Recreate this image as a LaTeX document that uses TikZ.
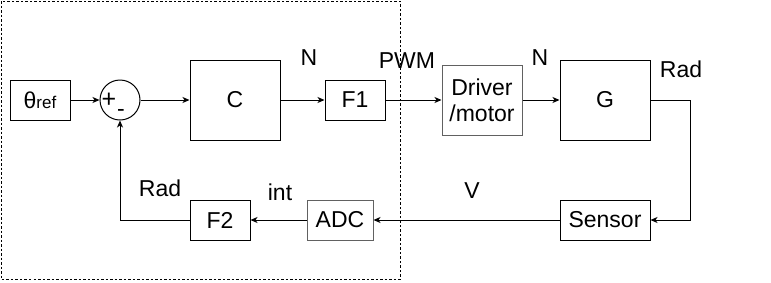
\documentclass[tikz,border=0pt]{standalone}
\usepackage{fontspec}
\setmainfont{Liberation Sans}
\usetikzlibrary{arrows.meta,positioning,calc}

\begin{document}
\begin{tikzpicture}[x=1pt,y=-1pt,line width=1pt,
  font=\fontsize{23}{26}\selectfont,
  blk/.style={draw,inner sep=0pt,align=center},
  grayblk/.style={blk,draw=black!62},
  arr/.style={-{Stealth[length=7pt,width=6pt,inset=2pt]}},
  lbl/.style={anchor=base,inner sep=0pt}]
\useasboundingbox (0,0) rectangle (771,282);

% digital part (dashed frame)
\draw[line width=0.8pt,dash pattern=on 2.5pt off 2pt] (1,1) rectangle (400,279);

% forward path
\node[blk,minimum width=60pt,minimum height=40pt] (ref) at (40,100)
  {θ{\fontsize{17}{17}\selectfont ref}};
\node[draw,circle,minimum size=40pt,inner sep=0pt] (sum) at (120,100) {};
\node[inner sep=0pt,font=\fontsize{25}{25}\selectfont] (plus) at (109,100) {+};
\node[inner sep=0pt,font=\fontsize{23}{23}\selectfont] (minus) at (121,113) {-};
\node[blk,minimum width=90pt,minimum height=80pt] (C) at (235,100) {C};
\node[blk,minimum width=60pt,minimum height=40pt] (F1) at (355,100) {F1};
\node[grayblk,minimum width=80pt,minimum height=70pt] (drv) at (482,100) {Driver\\/motor};
\node[blk,minimum width=90pt,minimum height=80pt] (G) at (605,100) {G};

% feedback path
\node[blk,minimum width=90pt,minimum height=40pt] (sens) at (605,220) {Sensor};
\node[grayblk,minimum width=66pt,minimum height=40pt] (adc) at (340,220) {ADC};
\node[blk,minimum width=60pt,minimum height=40pt] (F2) at (220,220) {F2};

\draw[arr] (ref) -- (sum);
\draw[arr] (sum) -- (C);
\draw[arr] (C) -- (F1);
\draw[arr] (F1) -- (drv);
\draw[arr] (drv) -- (G);
\draw[arr] (G.east) -- ++(40,0) |- (sens.east);
\draw[arr] (sens) -- (adc);
\draw[arr] (adc) -- (F2);
\draw[arr] (F2.west) -| (sum.south);

% signal units
\node[lbl] (uC) at (309,65) {N};
\node[lbl] (uF1) at (407,68) {PWM};
\node[lbl] (uDrv) at (540,65) {N};
\node[lbl] (uG) at (681,77) {Rad};
\node[lbl] (uSens) at (472,198) {V};
\node[lbl] (uAdc) at (280,200) {int};
\node[lbl] (uF2) at (160,196) {Rad};
\end{tikzpicture}
\end{document}
